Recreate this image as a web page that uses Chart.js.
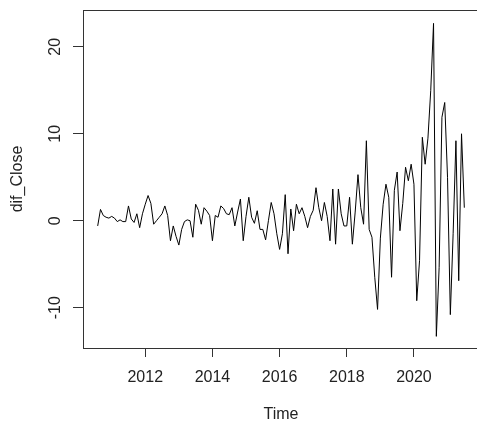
<!DOCTYPE html>
<html>
<head>
<meta charset="utf-8">
<script src="https://cdn.jsdelivr.net/npm/chart.js@4/dist/chart.umd.min.js"></script>
<style>
  html, body { margin: 0; padding: 0; background: #fff; overflow: hidden; }
</style>
</head>
<body>
<canvas id="tsChart" width="482" height="423"></canvas>
<script>
// monthly series, first value Aug 2010
const startYear = 2010;
const startMonth = 8;
const difClose = [
  -0.6, 1.3, 0.6, 0.4, 0.3, 0.5, 0.3, -0.1, 0.1, -0.1,
  -0.1, 1.7, 0.2, -0.2, 0.8, -0.8, 0.8, 1.9, 2.9, 2.0,
  -0.4, 0.0, 0.4, 0.8, 1.7, 0.6, -2.3, -0.6, -1.8, -2.8,
  -1.0, -0.1, 0.1, 0.0, -1.9, 1.9, 1.2, -0.4, 1.5, 1.1,
  0.6, -2.3, 0.6, 0.4, 1.7, 1.4, 0.8, 0.7, 1.5, -0.6,
  1.0, 2.5, -2.3, 0.5, 2.7, 0.4, -0.3, 1.15, -1.0, -1.0,
  -2.2, 0.0, 2.1, 0.8, -1.5, -3.3, -1.5, 3.0, -3.8, 1.35,
  -1.15, 1.9, 0.8, 1.5, 0.5, -0.8, 0.5, 1.2, 3.8, 1.5,
  0.0, 2.1, 0.5, -2.3, 3.65, -2.7, 3.65, 0.8, -0.6, -0.6,
  2.7, -2.7, 1.0, 5.3, 1.5, -0.4, 9.2, -1.0, -1.9, -6.5,
  -10.2, -2.0, 1.9, 4.2, 2.7, -6.5, 3.5, 5.6, -1.15, 2.0,
  6.15, 4.6, 6.5, 4.2, -9.2, -4.6, 9.6, 6.5, 9.5, 15.0,
  22.7, -13.3, -5.4, 11.9, 13.6, 5.0, -10.8, -1.5, 9.2, -6.9,
  10.0, 1.5
];
const xTicks = [2012, 2014, 2016, 2018, 2020];
const yTicks = [-10, 0, 10, 20];

let points = difClose.map((v, i) => ({ x: startYear + (startMonth - 1 + i) / 12, y: v }));

// R style box: top, left, bottom (right side falls off the canvas)
const boxPlugin = {
  id: 'box',
  afterDraw(chart) {
    const { ctx, chartArea: a } = chart;
    ctx.save();
    ctx.strokeStyle = '#333';
    ctx.lineWidth = 1;
    ctx.strokeRect(Math.round(a.left) + 0.5, Math.round(a.top) + 0.5,
      Math.round(a.right - a.left), Math.round(a.bottom - a.top));
    ctx.restore();
  }
};

const font = { family: 'Liberation Sans, Arial, sans-serif', size: 16 };

new Chart(document.getElementById('tsChart').getContext('2d'), {
  type: 'line',
  data: {
    datasets: [{
      data: points,
      borderColor: '#000',
      borderWidth: 1,
      pointRadius: 0,
      tension: 0,
      fill: false
    }]
  },
  options: {
    responsive: false,
    animation: false,
    layout: { padding: { top: 10, right: 3, left: 0, bottom: 0 } },
    plugins: { legend: { display: false }, tooltip: { enabled: false } },
    scales: {
      x: {
        type: 'linear',
        min: 2010.146,
        max: 2021.937,
        afterBuildTicks: (s) => { s.ticks = xTicks.map(v => ({ value: v })); },
        afterFit: (s) => { s.height = 75; s.paddingLeft = 0; s.paddingRight = 0; },
        grid: { drawOnChartArea: false, drawTicks: true, tickLength: 9, color: '#333' },
        border: { display: false },
        ticks: { color: '#222', font: font, padding: 11, maxRotation: 0, autoSkip: false,
          callback: (v) => String(v) },
        title: { display: true, text: 'Time', color: '#222', font: { ...font, lineHeight: 1 },
          padding: { top: 0, bottom: 0 } }
      },
      y: {
        min: -14.64,
        max: 24.24,
        afterBuildTicks: (s) => { s.ticks = yTicks.map(v => ({ value: v })); },
        afterFit: (s) => { s.width = 83; s.paddingTop = 0; s.paddingBottom = 0; },
        grid: { drawOnChartArea: false, drawTicks: true, tickLength: 10, color: '#333' },
        border: { display: false },
        ticks: { color: '#222', font: font, padding: 6, minRotation: 90, maxRotation: 90,
          crossAlign: 'center', callback: (v) => String(v) },
        title: { display: true, text: 'dif_Close', color: '#222', font: { ...font, lineHeight: 1 },
          padding: { top: 10, bottom: 0 } }
      }
    }
  },
  plugins: [boxPlugin]
});
</script>
</body>
</html>
